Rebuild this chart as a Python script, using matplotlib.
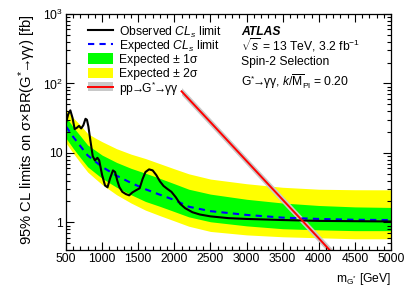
"""
ATLAS spin-2 graviton diphoton limit plot (G* -> gamma gamma, k/M_Pl = 0.20).
"""

import numpy as np
import matplotlib
matplotlib.use("Agg")
import matplotlib.pyplot as plt
from matplotlib.patches import Rectangle
from matplotlib.ticker import MultipleLocator, LogLocator, NullFormatter

plt.rcParams.update({
    "font.family": ["Liberation Sans", "DejaVu Sans"],
    "font.size": 8.7,
    "mathtext.fontset": "custom",
    "mathtext.rm": "Liberation Sans",
    "mathtext.it": "Liberation Sans:italic",
    "mathtext.bf": "Liberation Sans:bold",
})

# ── data ────────────────────────────────────────────────────────────────────

band_mass = [500, 600, 700, 800, 900, 1000, 1200, 1400, 1600, 1800, 2000,
             2200, 2500, 3000, 3500, 4000, 4500, 5000]
expected = [24, 17, 12.5, 9.2, 7.6, 6.3, 4.7, 3.7, 3.0, 2.5, 2.1,
            1.68, 1.45, 1.28, 1.17, 1.12, 1.09, 1.08]
exp_p1 = [33, 23.5, 17.5, 13, 11, 9.3, 7.3, 6.0, 5.1, 4.3, 3.6,
          3.0, 2.55, 2.15, 1.9, 1.75, 1.67, 1.64]
exp_m1 = [16.3, 11.6, 8.5, 6.3, 5.2, 4.3, 3.2, 2.5, 2.0, 1.7, 1.43,
          1.2, 1.02, 0.89, 0.81, 0.78, 0.76, 0.76]
exp_p2 = [43, 32, 25, 19, 16.5, 14.5, 11.5, 9.6, 8.3, 7.0, 5.9,
          5.0, 4.2, 3.6, 3.2, 3.0, 2.95, 2.94]
exp_m2 = [13.9, 9.9, 7.2, 5.3, 4.3, 3.5, 2.5, 1.9, 1.5, 1.25, 1.05,
          0.88, 0.74, 0.66, 0.62, 0.60, 0.58, 0.58]

obs_mass = [500, 530, 560, 590, 620, 650, 680, 710, 740, 770, 790, 810, 840,
            870, 900, 935, 960, 1000, 1040, 1075, 1110, 1150, 1180, 1210,
            1240, 1280, 1330, 1375, 1420, 1470, 1520, 1560, 1600, 1650,
            1700, 1750, 1800, 1850, 1900, 1960, 2020, 2080, 2150, 2250,
            2350, 2500, 2750, 3000, 3500, 4000, 4500, 5000]
observed = [27, 36, 41, 32, 22, 23, 24.5, 22.5, 25, 31, 30, 24, 14.5,
            9, 7.8, 8.5, 7.8, 4.8, 3.4, 3.2, 4.3, 5.6, 5.3, 4.0,
            3.2, 2.75, 2.55, 2.45, 2.7, 2.9, 3.1, 4.2, 5.3, 5.8,
            5.6, 4.8, 3.9, 3.35, 3.05, 2.75, 2.3, 1.85, 1.6, 1.4,
            1.3, 1.22, 1.15, 1.12, 1.08, 1.05, 1.04, 1.03]

theory_mass = [2100, 2500, 3000, 3500, 4000, 4300]
theory = [77, 27.7, 7.66, 2.12, 0.59, 0.27]
theory_lo = [68, 24.4, 6.75, 1.87, 0.52, 0.24]
theory_hi = [87, 31.3, 8.65, 2.4, 0.67, 0.31]

ARROW = r"$\!\!\rightarrow\!\!$"
GSTAR = r"G$^{*}$"

legend_labels = [
    r"Observed $\mathit{CL}_{s}$ limit",
    r"Expected $\mathit{CL}_{s}$ limit",
    "Expected ± 1σ",
    "Expected ± 2σ",
    "pp" + ARROW + GSTAR + ARROW + "γγ",
]

GREEN, YELLOW, BLUE, RED, GREY = "#00ff00", "#ffff00", "#0000ff", "#ff0000", "#c8c8c8"
DASH = (0, (3, 2.5))


def draw_legend(ax):
    # hand-placed legend rows so the spacing matches the ROOT layout
    rows = [0.932, 0.873, 0.811, 0.751, 0.692]
    x0, x1, xt = 0.068, 0.145, 0.163
    tr = ax.transAxes
    kw = dict(transform=tr, clip_on=False)
    ax.plot([x0, x1], [rows[0]] * 2, color="black", lw=1.5, **kw)
    ax.plot([x0, x1], [rows[1]] * 2, color=BLUE, lw=1.5, ls=DASH, **kw)
    ax.add_patch(Rectangle((x0, rows[2] - 0.024), x1 - x0, 0.048, color=GREEN, lw=0, **kw))
    ax.add_patch(Rectangle((x0, rows[3] - 0.022), x1 - x0, 0.044, color=YELLOW, lw=0, **kw))
    ax.add_patch(Rectangle((x0, rows[4] - 0.019), x1 - x0, 0.038, color=GREY, lw=0, **kw))
    ax.plot([x0, x1], [rows[4]] * 2, color=RED, lw=1.4, **kw)
    for y, lab in zip(rows, legend_labels):
        ax.text(xt, y, lab, transform=tr, va="center_baseline", fontsize=8.7)


def main():
    fig = plt.figure(figsize=(4.15, 2.98), dpi=100)
    ax = fig.add_axes([66 / 415, 48 / 298, 325 / 415, 236 / 298])

    ax.fill_between(band_mass, exp_m2, exp_p2, color=YELLOW, lw=0)
    ax.fill_between(band_mass, exp_m1, exp_p1, color=GREEN, lw=0)
    ax.plot(band_mass, expected, color=BLUE, lw=1.5, ls=DASH)
    ax.plot(obs_mass, observed, color="black", lw=1.5)
    ax.fill_between(theory_mass, theory_lo, theory_hi, color=GREY, lw=0)
    ax.plot(theory_mass, theory, color=RED, lw=1.4)

    ax.set_yscale("log")
    ax.set_xlim(500, 5000)
    ax.set_ylim(0.4, 1000)

    ax.xaxis.set_major_locator(MultipleLocator(500))
    ax.xaxis.set_minor_locator(MultipleLocator(100))
    ax.set_yticks([1, 10, 100, 1000], ["1", "10", r"$10^{2}$", r"$10^{3}$"])
    ax.yaxis.set_minor_locator(LogLocator(base=10, subs=np.arange(2, 10)))
    ax.yaxis.set_minor_formatter(NullFormatter())
    ax.tick_params(which="both", direction="in", top=True, right=True,
                   width=0.8, labelsize=8.7)
    ax.tick_params(which="major", length=6, pad=2.5)
    ax.tick_params(which="minor", length=3)
    for sp in ax.spines.values():
        sp.set_linewidth(0.9)

    ax.set_xlabel(r"m$_{\mathregular{G^{*}}}$ [GeV]", loc="right", labelpad=4)
    ax.set_ylabel("95% CL limits on σ×BR(" + GSTAR + ARROW + "γγ) [fb]",
                  loc="top", labelpad=3, fontsize=10.6)

    draw_legend(ax)

    tx = 0.538
    ax.text(tx, 0.925, "ATLAS", transform=ax.transAxes, va="center",
            fontweight="bold", fontstyle="italic")
    ax.text(tx, 0.868, r"$\sqrt{s}$ = 13 TeV, 3.2 fb$^{-1}$",
            transform=ax.transAxes, va="center")
    ax.text(tx, 0.797, "Spin-2 Selection", transform=ax.transAxes, va="center")
    ax.text(tx, 0.712, GSTAR + ARROW + r"γγ, $k/\overline{\mathrm{M}}_{\mathrm{Pl}}$ = 0.20",
            transform=ax.transAxes, va="center")

    fig.savefig("out.png", dpi=100)
    plt.close(fig)


if __name__ == "__main__":
    main()
